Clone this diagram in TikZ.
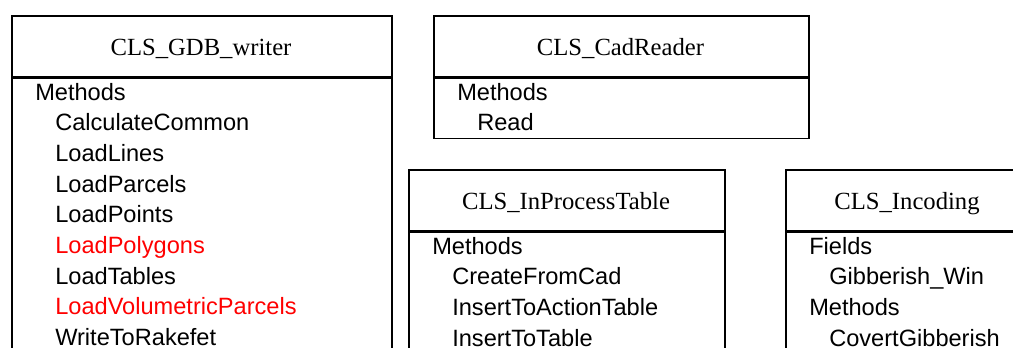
\documentclass[tikz,border=0pt]{standalone}
\usepackage{fontspec}
\setmainfont{Liberation Serif}
\newfontfamily\bodyfont{Liberation Sans}
\begin{document}
\begin{tikzpicture}[x=0.75pt,y=-0.75pt,
  part/.style={draw=black, line width=1.2pt, rectangle, inner sep=0pt, anchor=north west},
  classtitle/.style={anchor=base, inner sep=0pt, font=\fontsize{18.5}{22}\selectfont},
  member/.style={anchor=base west, inner sep=0pt, font=\bodyfont\fontsize{17.7}{21}\selectfont},
  changed/.style={member, text=red}]
\useasboundingbox (0,0) rectangle (1013,347);
\clip (0,0) rectangle (1013,347);

% CLS_GDB_writer
\node[part, minimum width=285pt, minimum height=45.75pt] (gdbhead) at (11,15) {};
\node[part, minimum width=285pt, minimum height=243pt] (gdbbody) at (gdbhead.south west) {};
\node[classtitle] (gdbtitle) at (201,55) {CLS\_GDB\_writer};
\node[member] (gdbm)  at (35,100)   {Methods};
\node[member] (gdb1)  at (55,130.7) {CalculateCommon};
\node[member] (gdb2)  at (55,161.4) {LoadLines};
\node[member] (gdb3)  at (55,192.1) {LoadParcels};
\node[member] (gdb4)  at (55,222.8) {LoadPoints};
\node[changed] (gdb5) at (55,253.5) {LoadPolygons};
\node[member] (gdb6)  at (55,284.2) {LoadTables};
\node[changed] (gdb7) at (55,314.9) {LoadVolumetricParcels};
\node[member] (gdb8)  at (55,345.6) {WriteToRakefet};

% CLS_CadReader
\node[part, minimum width=281.25pt, minimum height=45.75pt] (cadhead) at (433,15) {};
\node[part, minimum width=281.25pt, minimum height=45pt] (cadbody) at (cadhead.south west) {};
\node[classtitle] (cadtitle) at (620.5,55) {CLS\_CadReader};
\node[member] (cadm) at (457,100)   {Methods};
\node[member] (cad1) at (477,130.7) {Read};

% CLS_InProcessTable
\node[part, minimum width=237pt, minimum height=45.75pt] (iphead) at (408,169) {};
\node[part, minimum width=237pt, minimum height=120pt] (ipbody) at (iphead.south west) {};
\node[classtitle] (iptitle) at (566,209) {CLS\_InProcessTable};
\node[member] (ipm) at (432,254)   {Methods};
\node[member] (ip1) at (452,284.7) {CreateFromCad};
\node[member] (ip2) at (452,315.4) {InsertToActionTable};
\node[member] (ip3) at (452,346.1) {InsertToTable};

% CLS_Incoding
\node[part, minimum width=183pt, minimum height=45.75pt] (inchead) at (785,169) {};
\node[part, minimum width=183pt, minimum height=120pt] (incbody) at (inchead.south west) {};
\node[classtitle] (inctitle) at (907,209) {CLS\_Incoding};
\node[member] (incf)  at (809,254)   {Fields};
\node[member] (inc1)  at (829,284.7) {Gibberish\_Win};
\node[member] (incm)  at (809,315.4) {Methods};
\node[member] (inc2)  at (829,346.1) {CovertGibberish};
\end{tikzpicture}
\end{document}
